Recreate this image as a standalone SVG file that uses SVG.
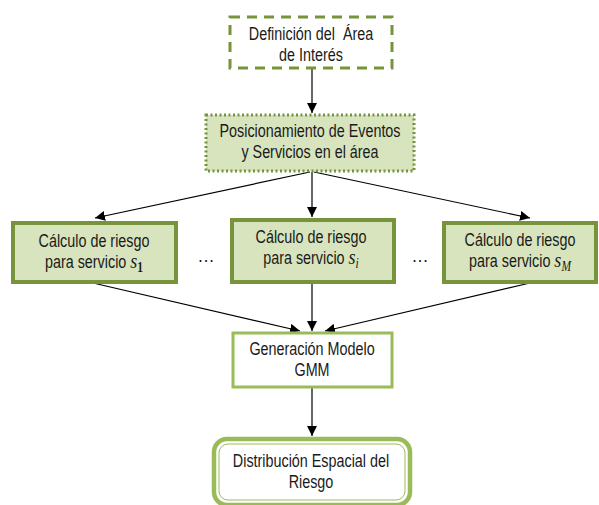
<svg xmlns="http://www.w3.org/2000/svg" width="599" height="505" viewBox="0 0 599 505">
  <defs>
    <marker id="arrow" viewBox="0 0 10 10" refX="10" refY="5" markerWidth="10" markerHeight="10" markerUnits="userSpaceOnUse" orient="auto">
      <path d="M0,0 L10,5 L0,10 z" fill="#000"/>
    </marker>
    <style>
      .lbl { font-family: "Liberation Sans", Arial, sans-serif; font-size: 17.5px; fill: #1a1a1a; text-anchor: middle; }
      .math { font-family: "Liberation Serif", "Times New Roman", serif; font-style: italic; font-size: 22px; }
      .sub { font-family: "Liberation Serif", "Times New Roman", serif; font-size: 14px; }
      .risk { fill: #D7E4BD; stroke: #77933C; stroke-width: 4; }
      .conn line { stroke: #000; stroke-width: 1.2; marker-end: url(#arrow); }
    </style>
  </defs>
  <rect width="599" height="505" fill="#fff"/>

  <!-- connectors -->
  <g id="connectors" class="conn">
    <line x1="312" y1="69" x2="312" y2="113"/>
    <line x1="310" y1="172" x2="95" y2="218"/>
    <line x1="312" y1="172" x2="312" y2="217"/>
    <line x1="314" y1="172" x2="530" y2="218"/>
    <line x1="93" y1="283" x2="300" y2="331"/>
    <line x1="312" y1="283" x2="312" y2="331"/>
    <line x1="530" y1="283" x2="325" y2="331"/>
    <line x1="312" y1="388" x2="312" y2="436"/>
  </g>

  <!-- labels use a condensed width: each text group is scaled horizontally about its centre -->
  <g id="area">
    <rect x="230" y="17" width="162" height="51" fill="#fff" stroke="#77933C" stroke-width="3" stroke-dasharray="10,7"/>
    <g transform="translate(311 0) scale(0.82 1)">
      <text class="lbl" x="0" y="40">Definición del&#160; Área</text>
      <text class="lbl" x="0" y="61">de Interés</text>
    </g>
  </g>

  <g id="posicionamiento">
    <rect x="206" y="115" width="208" height="56" fill="#D7E4BD" stroke="#77933C" stroke-width="3" stroke-dasharray="2,2.5"/>
    <g transform="translate(310 0) scale(0.82 1)">
      <text class="lbl" x="0" y="137">Posicionamiento de Eventos</text>
      <text class="lbl" x="0" y="158">y Servicios en el área</text>
    </g>
  </g>

  <g id="riesgo1">
    <rect class="risk" x="13" y="223" width="163" height="59"/>
    <g transform="translate(94 0) scale(0.82 1)">
      <text class="lbl" x="0" y="247">Cálculo de riesgo</text>
      <text class="lbl" x="0" y="268">para servicio <tspan class="math">s</tspan><tspan class="sub" font-weight="bold" dy="4">1</tspan></text>
    </g>
  </g>

  <g id="riesgoI">
    <rect class="risk" x="232" y="220" width="162" height="62"/>
    <g transform="translate(311 0) scale(0.82 1)">
      <text class="lbl" x="0" y="243">Cálculo de riesgo</text>
      <text class="lbl" x="0" y="264">para servicio <tspan class="math">s</tspan><tspan class="sub math" dy="4" font-size="14">i</tspan></text>
    </g>
  </g>

  <g id="riesgoM">
    <rect class="risk" x="444" y="223" width="152" height="59"/>
    <g transform="translate(520 0) scale(0.82 1)">
      <text class="lbl" x="0" y="246">Cálculo de riesgo</text>
      <text class="lbl" x="0" y="267">para servicio <tspan class="math">s</tspan><tspan class="sub math" dy="4" font-size="14">M</tspan></text>
    </g>
  </g>

  <!-- ellipses between the service columns -->
  <text class="lbl" x="206" y="262">…</text>
  <text class="lbl" x="420" y="262">…</text>

  <g id="gmm">
    <rect x="233" y="333" width="159" height="54" fill="#fff" stroke="#9BBB59" stroke-width="3"/>
    <g transform="translate(312 0) scale(0.82 1)">
      <text class="lbl" x="0" y="355">Generación Modelo</text>
      <text class="lbl" x="0" y="376">GMM</text>
    </g>
  </g>

  <g id="distribucion">
    <rect x="214" y="439" width="196" height="66" rx="13" fill="#fff" stroke="#9BBB59" stroke-width="4.5"/>
    <rect x="219" y="444" width="186" height="56" rx="9" fill="none" stroke="#9BBB59" stroke-width="1"/>
    <g transform="translate(311 0) scale(0.82 1)">
      <text class="lbl" x="0" y="467">Distribución Espacial del</text>
      <text class="lbl" x="0" y="488">Riesgo</text>
    </g>
  </g>
</svg>
